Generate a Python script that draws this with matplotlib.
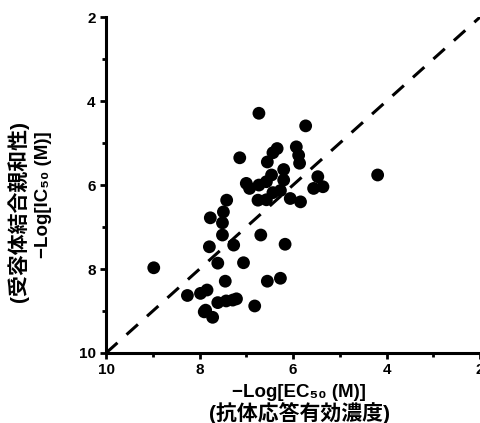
import numpy as np
import matplotlib
matplotlib.use('Agg')
import matplotlib.pyplot as plt
from matplotlib.ticker import MultipleLocator

# -Log[EC50] (antibody response) vs -Log[IC50] (receptor binding)
x_ec50 = [6.73, 5.73, 7.14, 6.34, 6.43, 6.55, 5.93, 5.88, 5.86, 6.20,
          6.46, 6.20, 7.00, 6.93, 6.73, 6.57, 6.27, 6.43, 6.75, 6.57,
          6.06, 5.84, 5.47, 5.56, 5.36, 4.19, 7.42, 7.49, 7.77, 7.51,
          7.51, 6.69, 7.27, 7.79, 6.17, 7.61, 7.06, 8.98, 7.45, 6.55,
          6.27, 8.26, 7.98, 7.84, 7.61, 7.43, 7.29, 7.21, 6.82, 7.87,
          7.72, 7.90]
y_ic50 = [4.29, 4.59, 5.35, 5.13, 5.23, 5.45, 5.09, 5.29, 5.48, 5.63,
          5.76, 5.88, 5.96, 6.08, 6.00, 5.92, 6.13, 6.18, 6.36, 6.35,
          6.32, 6.40, 5.80, 6.08, 6.04, 5.76, 6.36, 6.64, 6.78, 6.90,
          7.19, 7.19, 7.43, 7.47, 7.41, 7.86, 7.85, 7.97, 8.29, 8.29,
          8.22, 8.63, 8.58, 8.50, 8.80, 8.76, 8.74, 8.71, 8.88, 8.98,
          9.15, 9.02]
ticks = [10, 8, 6, 4, 2]
xlabel_log = '\u2212Log[EC\u2085\u2080 (M)]'
xlabel_jp = '(抗体応答有効濃度)'
ylabel_log = '\u2212Log[IC\u2085\u2080 (M)]'
ylabel_jp = '(受容体結合親和性)'

plt.rcParams['font.family'] = ['Liberation Sans', 'DejaVu Sans', 'Noto Sans CJK JP']
plt.rcParams['font.weight'] = 'bold'

fig = plt.figure(figsize=(4.8, 4.23), dpi=100)
ax = fig.add_axes([0.221, 0.1655, 0.779, 0.794])

ax.plot([10, 2], [10, 2], color='k', lw=2.2, dashes=(5, 4), zorder=1)
ax.scatter(x_ec50, y_ic50, s=85, color='k', edgecolors='none', zorder=2, clip_on=False)

ax.set_xlim(10, 2)
ax.set_ylim(10, 2)
ax.set_xticks(ticks)
ax.set_yticks(ticks)
ax.xaxis.set_minor_locator(MultipleLocator(1))
ax.yaxis.set_minor_locator(MultipleLocator(1))
ax.tick_params(which='both', direction='out', width=2, labelsize=11)
ax.tick_params(which='major', length=4)
ax.tick_params(which='minor', length=3)

for s in ['top', 'right']:
    ax.spines[s].set_visible(False)
for s in ['left', 'bottom']:
    ax.spines[s].set_linewidth(2.2)

# axis titles: latin line + japanese line, different sizes
fig.text(0.622, 0.071, xlabel_log, fontsize=13.5, fontweight='bold', ha='center', va='center')
fig.text(0.625, 0.024, xlabel_jp, fontsize=15, fontweight='bold', ha='center', va='center')
fig.text(0.0896, 0.539, ylabel_log, fontsize=13.5, fontweight='bold', ha='center', va='center', rotation=90)
fig.text(0.0375, 0.501, ylabel_jp, fontsize=15, fontweight='bold', ha='center', va='center', rotation=90)

plt.savefig('out.png', dpi=100)
